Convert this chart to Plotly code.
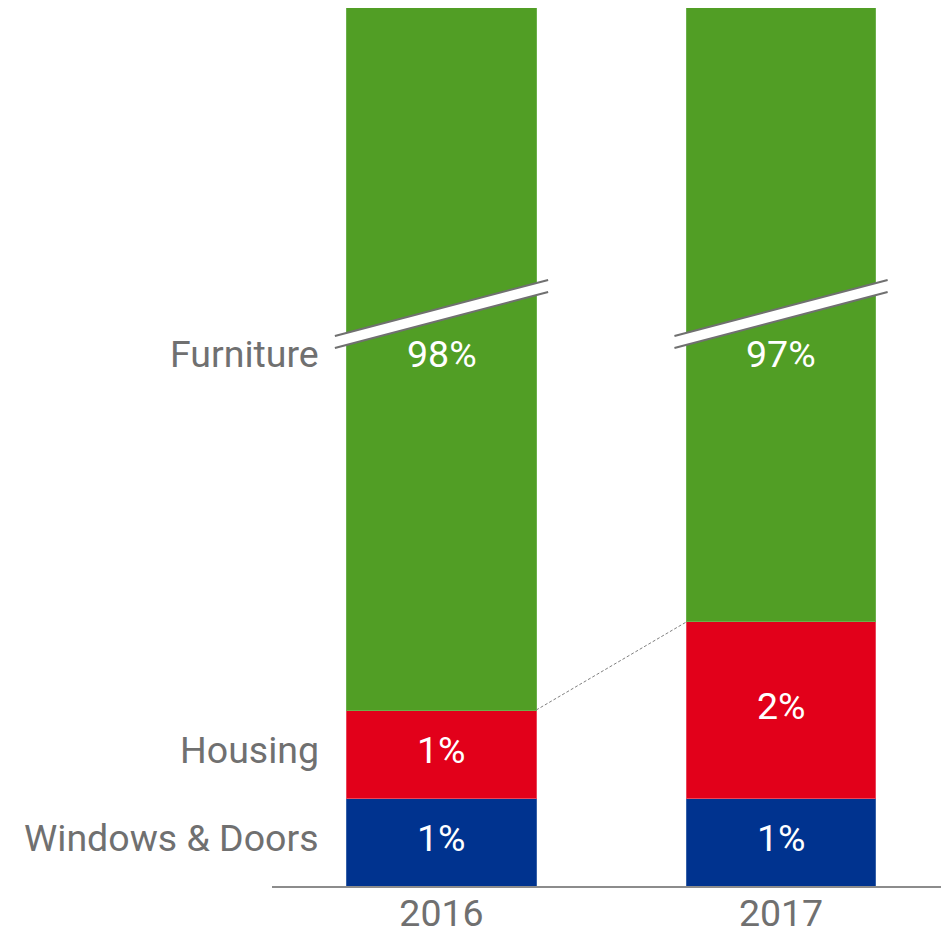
import plotly.graph_objects as go

years = ["2016", "2017"]
categories = ["Windows & Doors", "Housing", "Furniture"]
windows_doors = [1, 1]
housing = [1, 2]
furniture = [98, 97]
colors = ["#00338f", "#e2001a", "#519e25"]
edge_colors = ["#3560a8", "#e8465a", "#6bb04a"]

Y_MAX = 9.977  # broken axis: visible top of the chart
BARGAP = 0.442
FONT = "Roboto"
GREY = "#707070"
SIZE = 37.5
TEXT_SHIFT = 4

series = [windows_doors, housing, furniture]
fig = go.Figure()
for name, vals, col, ecol in zip(categories, series, colors, edge_colors):
    fig.add_trace(go.Bar(
        x=years, y=vals, name=name,
        marker=dict(color=col, line=dict(color=ecol, width=1)),
        textposition="none",
    ))

# stack bottoms/tops for 2016 (used for category label positions)
bottoms0 = [0, windows_doors[0], windows_doors[0] + housing[0]]
tops0 = [windows_doors[0], windows_doors[0] + housing[0], 10]
mids0 = [(b + t) / 2 for b, t in zip(bottoms0, tops0)]

annotations = []
for cat, m in zip(categories, mids0):
    annotations.append(dict(
        x=-0.355, y=m, xref="x", yref="y", text=cat, showarrow=False,
        xanchor="right", yanchor="middle", yshift=TEXT_SHIFT,
        font=dict(family=FONT, size=SIZE, color=GREY)))

# value labels
for i in range(len(years)):
    base = 0
    for s_idx, vals in enumerate(series):
        v = vals[i]
        if categories[s_idx] == "Furniture":
            ym = mids0[2]  # centred in visible part, aligned with its category label
        else:
            ym = base + v / 2
        base += v
        annotations.append(dict(
            x=i, y=ym, xref="x", yref="y", text=f"{v}%", showarrow=False,
            xanchor="center", yanchor="middle", yshift=TEXT_SHIFT,
            font=dict(family=FONT, size=SIZE, color="white")))

shapes = []
half = (1 - BARGAP) / 2
# dashed connector between housing tops
h_top = [w + h for w, h in zip(windows_doors, housing)]
shapes.append(dict(type="line", xref="x", yref="y",
                   x0=0 + half, y0=h_top[0], x1=1 - half, y1=h_top[1],
                   line=dict(color="#808080", width=1, dash="3px,2px")))
# axis break marks
ext = 0.035
for i in range(len(years)):
    xl, xr = i - half - ext, i + half + ext
    up_l, up_r, lo_l, lo_r = 6.25, 6.886, 6.114, 6.75
    shapes.append(dict(type="path", xref="x", yref="y",
                       path=f"M{xl},{lo_l} L{xr},{lo_r} L{xr},{up_r} L{xl},{up_l} Z",
                       fillcolor="white", line=dict(width=0)))
    for (a, b) in [(up_l, up_r), (lo_l, lo_r)]:
        shapes.append(dict(type="line", xref="x", yref="y",
                           x0=xl, y0=a, x1=xr, y1=b,
                           line=dict(color="#707070", width=2)))

fig.update_layout(
    barmode="stack", bargap=BARGAP,
    width=941, height=926,
    margin=dict(l=264, r=0, t=0, b=48, autoexpand=False),
    plot_bgcolor="white", paper_bgcolor="white",
    showlegend=False,
    annotations=annotations, shapes=shapes,
    xaxis=dict(type="category", range=[-0.4993, 1.4947], autorange=False,
               automargin=False, ticklabelstandoff=-7,
               showline=True, linecolor="#8c8c8c", linewidth=2,
               showgrid=False, ticks="", zeroline=False,
               tickfont=dict(family=FONT, size=SIZE, color=GREY)),
    yaxis=dict(range=[0, Y_MAX], autorange=False, visible=False,
               automargin=False, showgrid=False, zeroline=False),
)

fig.write_html("out.html")
